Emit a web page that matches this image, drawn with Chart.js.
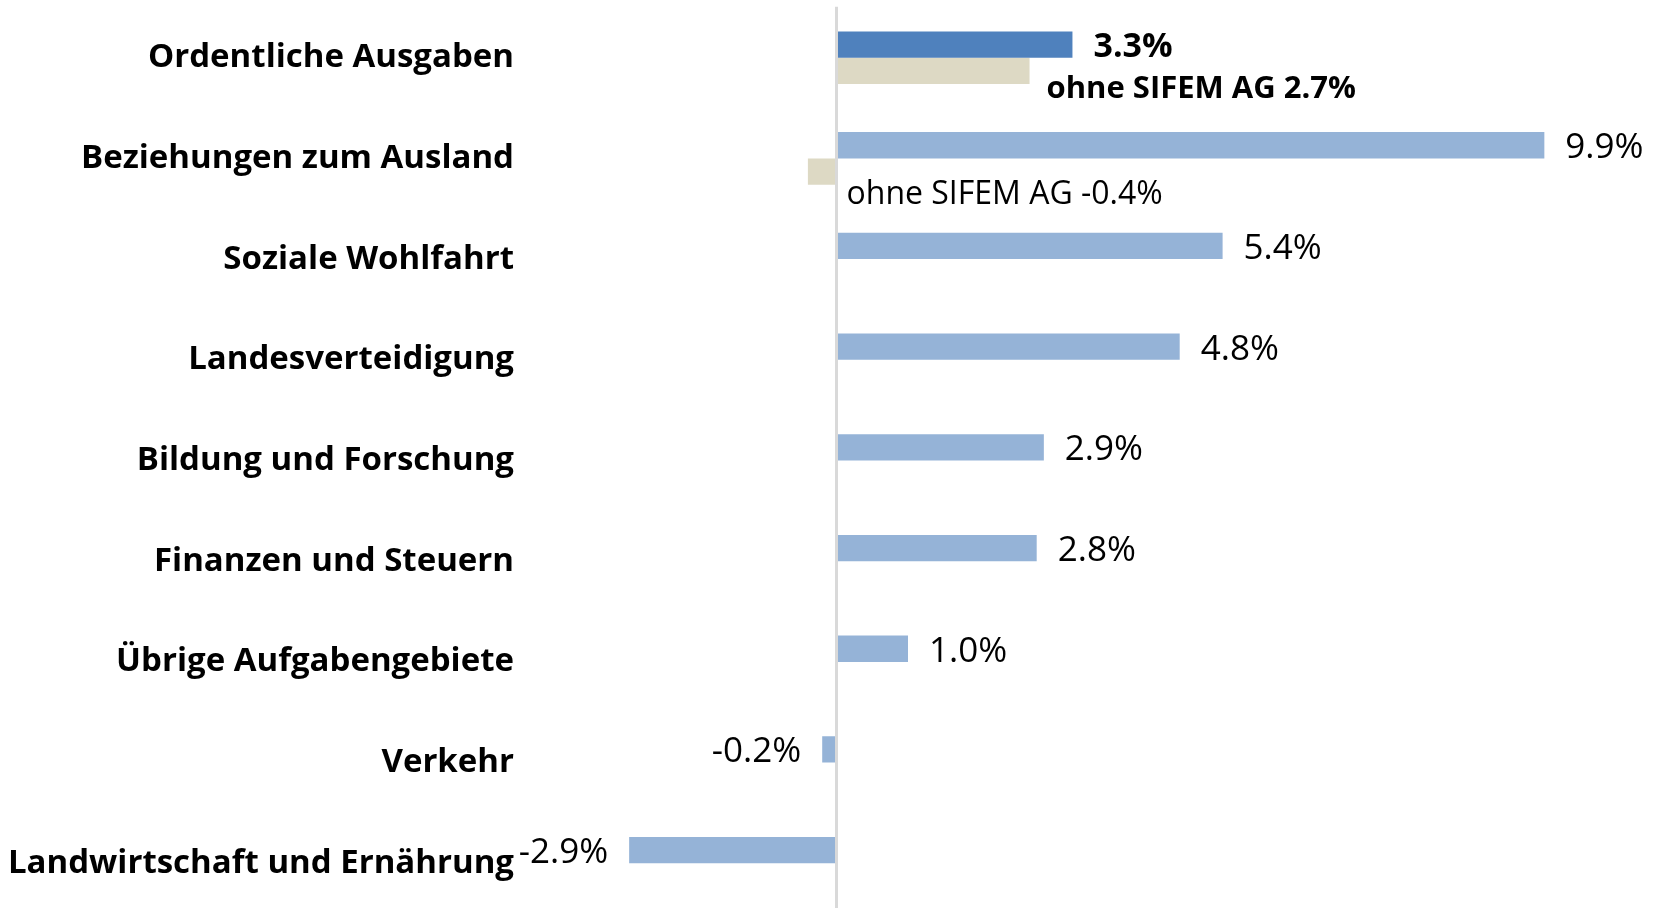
<!DOCTYPE html>
<html><head><meta charset="utf-8">
<script src="https://cdn.jsdelivr.net/npm/chart.js@4"></script>
<style>html,body{margin:0;padding:0;overflow:hidden;background:#fff;} #wrap{width:1661px;height:920px;}</style>
</head><body><div id="wrap"><canvas id="c" width="1661" height="920"></canvas></div>
<script>
const categories = ['Ordentliche Ausgaben','Beziehungen zum Ausland','Soziale Wohlfahrt','Landesverteidigung','Bildung und Forschung','Finanzen und Steuern','Übrige Aufgabengebiete','Verkehr','Landwirtschaft und Ernährung'];
const changePct = [3.3, 9.9, 5.4, 4.8, 2.9, 2.8, 1.0, -0.2, -2.9];
const ohneSifemPct = [2.7, -0.4, null, null, null, null, null, null, null];
const ohneSifemPrefix = 'ohne SIFEM AG ';
const xMin = -3, xMax = 10;

const FONT = '"Open Sans", "Noto Sans", sans-serif';
const fmt = v => v.toFixed(1) + '%';

const zeroLine = {
  id: 'zeroLine',
  afterDatasetsDraw(chart) {
    const {ctx, chartArea, scales} = chart;
    const x = scales.x.getPixelForValue(0);
    ctx.save();
    ctx.strokeStyle = '#d9d9d9';
    ctx.lineWidth = 3;
    ctx.beginPath();
    ctx.moveTo(x, chartArea.top - 0.5);
    ctx.lineTo(x, chartArea.bottom);
    ctx.stroke();
    ctx.restore();
  }
};

const valueLabels = {
  id: 'valueLabels',
  afterDatasetsDraw(chart) {
    const ctx = chart.ctx;
    ctx.save();
    ctx.fillStyle = '#000';
    ctx.textBaseline = 'middle';
    chart.getDatasetMeta(0).data.forEach((bar, i) => {
      const v = changePct[i];
      ctx.font = (i === 0 ? 'bold 34px ' : '35px ') + FONT;
      if (v >= 0) { ctx.textAlign = 'left'; ctx.fillText(fmt(v), bar.x + 21, bar.y + 3); }
      else { ctx.textAlign = 'right'; ctx.fillText(fmt(v), bar.x - 21, bar.y + 3); }
    });
    chart.getDatasetMeta(1).data.forEach((bar, i) => {
      const v = ohneSifemPct[i];
      if (v === null || v === undefined) return;
      ctx.textAlign = 'left';
      if (i === 0) {
        ctx.font = 'bold 31px ' + FONT;
        ctx.fillText(ohneSifemPrefix + fmt(v), bar.x + 17, bar.y + 18);
      } else {
        ctx.font = '32px ' + FONT;
        ctx.fillText(ohneSifemPrefix + fmt(v), bar.base + 10, bar.y + 23);
      }
    });
    ctx.restore();
  }
};

new Chart(document.getElementById('c'), {
  type: 'bar',
  data: {
    labels: categories,
    datasets: [
      { data: changePct, backgroundColor: changePct.map((v, i) => i === 0 ? '#4f81bd' : '#95b3d7'),
        categoryPercentage: 0.5223, barPercentage: 1, borderWidth: 0 },
      { data: ohneSifemPct, backgroundColor: '#ddd9c4',
        categoryPercentage: 0.5223, barPercentage: 1, borderWidth: 0 }
    ]
  },
  options: {
    indexAxis: 'y',
    responsive: false,
    animation: false,
    devicePixelRatio: 1,
    layout: { padding: { top: 7.35, right: 109.5, bottom: 6.35, left: 0 } },
    plugins: { legend: { display: false }, tooltip: { enabled: false } },
    scales: {
      x: { display: false, min: xMin, max: xMax },
      y: {
        grid: { display: false, drawTicks: false },
        border: { display: false },
        ticks: { autoSkip: false, padding: 108, color: '#000',
          font: { family: FONT, size: 33, weight: 'bold' } },
        afterFit(s) { s.width = 622; s.paddingTop = 0; s.paddingBottom = 0; }
      }
    }
  },
  plugins: [zeroLine, valueLabels]
});
</script>
</body></html>
